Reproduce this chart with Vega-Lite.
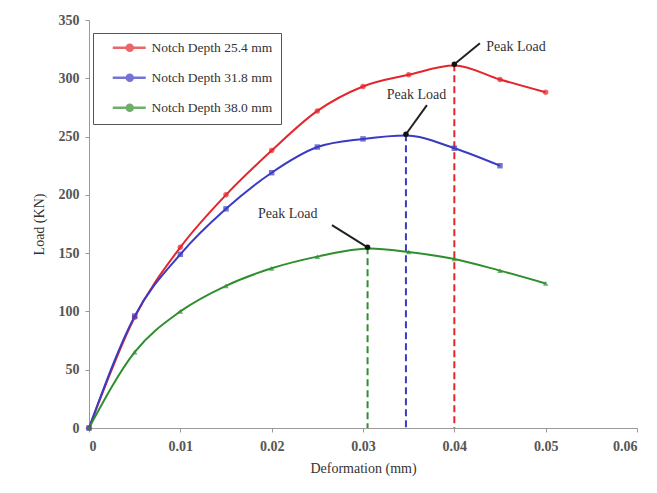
{
  "$schema": "https://vega.github.io/schema/vega-lite/v6.json",
  "autosize": "none",
  "width": 548,
  "height": 408,
  "padding": {"left": 89, "top": 20, "right": 20, "bottom": 65},
  "background": "white",
  "config": {
    "view": {"stroke": null},
    "font": "Liberation Serif",
    "axis": {
      "labelFont": "Liberation Serif",
      "titleFont": "Liberation Serif",
      "labelFontSize": 14,
      "labelFontWeight": "bold",
      "titleFontSize": 14,
      "titleFontWeight": "normal",
      "labelColor": "#555",
      "titleColor": "#333",
      "domainColor": "#999",
      "tickColor": "#999",
      "tickSize": 4,
      "grid": false
    }
  },
  "datasets": {
    "series": [
      {"depth": "Notch Depth 25.4 mm", "def": 0, "load": 0, "kind": "marker"},
      {"depth": "Notch Depth 25.4 mm", "def": 0.005, "load": 95, "kind": "marker"},
      {"depth": "Notch Depth 25.4 mm", "def": 0.01, "load": 155, "kind": "marker"},
      {"depth": "Notch Depth 25.4 mm", "def": 0.015, "load": 200, "kind": "marker"},
      {"depth": "Notch Depth 25.4 mm", "def": 0.02, "load": 238, "kind": "marker"},
      {"depth": "Notch Depth 25.4 mm", "def": 0.025, "load": 272, "kind": "marker"},
      {"depth": "Notch Depth 25.4 mm", "def": 0.03, "load": 293, "kind": "marker"},
      {"depth": "Notch Depth 25.4 mm", "def": 0.035, "load": 303, "kind": "marker"},
      {"depth": "Notch Depth 25.4 mm", "def": 0.04, "load": 311, "kind": "peak"},
      {"depth": "Notch Depth 25.4 mm", "def": 0.045, "load": 299, "kind": "marker"},
      {"depth": "Notch Depth 25.4 mm", "def": 0.05, "load": 288, "kind": "marker"},
      {"depth": "Notch Depth 31.8 mm", "def": 0, "load": 0, "kind": "marker"},
      {"depth": "Notch Depth 31.8 mm", "def": 0.005, "load": 96, "kind": "marker"},
      {"depth": "Notch Depth 31.8 mm", "def": 0.01, "load": 149, "kind": "marker"},
      {"depth": "Notch Depth 31.8 mm", "def": 0.015, "load": 188, "kind": "marker"},
      {"depth": "Notch Depth 31.8 mm", "def": 0.02, "load": 219, "kind": "marker"},
      {"depth": "Notch Depth 31.8 mm", "def": 0.025, "load": 241, "kind": "marker"},
      {"depth": "Notch Depth 31.8 mm", "def": 0.03, "load": 248, "kind": "marker"},
      {"depth": "Notch Depth 31.8 mm", "def": 0.0347, "load": 251, "kind": "peak"},
      {"depth": "Notch Depth 31.8 mm", "def": 0.04, "load": 240, "kind": "marker"},
      {"depth": "Notch Depth 31.8 mm", "def": 0.045, "load": 225, "kind": "marker"},
      {"depth": "Notch Depth 38.0 mm", "def": 0, "load": 0, "kind": "marker"},
      {"depth": "Notch Depth 38.0 mm", "def": 0.005, "load": 65, "kind": "marker"},
      {"depth": "Notch Depth 38.0 mm", "def": 0.01, "load": 100, "kind": "marker"},
      {"depth": "Notch Depth 38.0 mm", "def": 0.015, "load": 122, "kind": "marker"},
      {"depth": "Notch Depth 38.0 mm", "def": 0.02, "load": 137, "kind": "marker"},
      {"depth": "Notch Depth 38.0 mm", "def": 0.025, "load": 147, "kind": "marker"},
      {"depth": "Notch Depth 38.0 mm", "def": 0.0307, "load": 154, "kind": "peak"},
      {"depth": "Notch Depth 38.0 mm", "def": 0.035, "load": 151, "kind": "marker"},
      {"depth": "Notch Depth 38.0 mm", "def": 0.04, "load": 145, "kind": "marker"},
      {"depth": "Notch Depth 38.0 mm", "def": 0.045, "load": 135, "kind": "marker"},
      {"depth": "Notch Depth 38.0 mm", "def": 0.05, "load": 124, "kind": "marker"}
    ],
    "notes": [
      {"depth": "Notch Depth 25.4 mm", "tx": 0.0435, "ty": 327, "ax": 0.0428, "ay": 330, "px": 0.04, "py": 312, "label": "Peak Load"},
      {"depth": "Notch Depth 31.8 mm", "tx": 0.0326, "ty": 286, "ax": 0.037, "ay": 277, "px": 0.0347, "py": 252, "label": "Peak Load"},
      {"depth": "Notch Depth 38.0 mm", "tx": 0.0185, "ty": 184, "ax": 0.0266, "ay": 174, "px": 0.0305, "py": 155, "label": "Peak Load"}
    ]
  },
  "layer": [
    {
      "data": {"name": "notes"},
      "mark": {"type": "rule", "strokeDash": [7, 4], "strokeWidth": 2},
      "encoding": {
        "x": {"field": "px", "type": "quantitative", "scale": {"domain": [0, 0.06]}},
        "y": {"field": "py", "type": "quantitative", "scale": {"domain": [0, 350]}},
        "y2": {"datum": 0},
        "color": {"field": "depth", "type": "nominal"}
      }
    },
    {
      "data": {"name": "series"},
      "mark": {"type": "line", "interpolate": "monotone", "strokeWidth": 2},
      "encoding": {
        "x": {"field": "def", "type": "quantitative", "title": "Deformation (mm)",
          "scale": {"domain": [0, 0.06]},
          "axis": {"values": [0, 0.01, 0.02, 0.03, 0.04, 0.05, 0.06], "format": ".2~f", "labelPadding": 7, "titlePadding": 8}},
        "y": {"field": "load", "type": "quantitative", "title": "Load (KN)",
          "scale": {"domain": [0, 350]},
          "axis": {"values": [0, 50, 100, 150, 200, 250, 300, 350], "labelPadding": 6, "titlePadding": 12}},
        "color": {
          "field": "depth", "type": "nominal",
          "scale": {"domain": ["Notch Depth 25.4 mm", "Notch Depth 31.8 mm", "Notch Depth 38.0 mm"], "range": ["#e3262b", "#3a3ac4", "#2f8f2f"]},
          "legend": {
            "title": null, "orient": "none", "legendX": 4, "legendY": 13,
            "direction": "vertical",
            "strokeColor": "#555", "fillColor": "white", "padding": 8,
            "labelFont": "Liberation Serif", "labelFontSize": 13.5, "labelColor": "#333",
            "symbolType": "M1,0H7.6M5,0A0.6,0.6 0 1 1 3.8,0A0.6,0.6 0 1 1 5,0Z",
            "symbolSize": 100, "symbolStrokeWidth": 2.5, "rowPadding": 13, "labelOffset": 37
          }
        },
        "order": {"field": "def", "type": "quantitative"}
      }
    },
    {
      "data": {"name": "series"},
      "transform": [{"filter": "datum.kind == 'marker' && datum.depth == 'Notch Depth 25.4 mm'"}],
      "mark": {"type": "point", "filled": true, "size": 30, "shape": "circle"},
      "encoding": {
        "x": {"field": "def", "type": "quantitative"},
        "y": {"field": "load", "type": "quantitative"},
        "color": {"field": "depth", "type": "nominal"}
      }
    },
    {
      "data": {"name": "series"},
      "transform": [{"filter": "datum.kind == 'marker' && datum.depth == 'Notch Depth 31.8 mm'"}],
      "mark": {"type": "point", "filled": true, "size": 30, "shape": "square"},
      "encoding": {
        "x": {"field": "def", "type": "quantitative"},
        "y": {"field": "load", "type": "quantitative"},
        "color": {"field": "depth", "type": "nominal"}
      }
    },
    {
      "data": {"name": "series"},
      "transform": [{"filter": "datum.kind == 'marker' && datum.depth == 'Notch Depth 38.0 mm'"}],
      "mark": {"type": "point", "filled": true, "size": 30, "shape": "triangle-up"},
      "encoding": {
        "x": {"field": "def", "type": "quantitative"},
        "y": {"field": "load", "type": "quantitative"},
        "color": {"field": "depth", "type": "nominal"}
      }
    },
    {
      "data": {"name": "notes"},
      "mark": {"type": "rule", "color": "#222", "strokeWidth": 2},
      "encoding": {
        "x": {"field": "ax", "type": "quantitative"},
        "y": {"field": "ay", "type": "quantitative"},
        "x2": {"field": "px"},
        "y2": {"field": "py"}
      }
    },
    {
      "data": {"name": "notes"},
      "mark": {"type": "point", "filled": true, "color": "#111", "size": 30, "opacity": 1},
      "encoding": {
        "x": {"field": "px", "type": "quantitative"},
        "y": {"field": "py", "type": "quantitative"}
      }
    },
    {
      "data": {"name": "notes"},
      "mark": {"type": "text", "align": "left", "baseline": "middle", "fontSize": 14, "font": "Liberation Serif", "color": "#333"},
      "encoding": {
        "x": {"field": "tx", "type": "quantitative"},
        "y": {"field": "ty", "type": "quantitative"},
        "text": {"field": "label"}
      }
    }
  ]
}
